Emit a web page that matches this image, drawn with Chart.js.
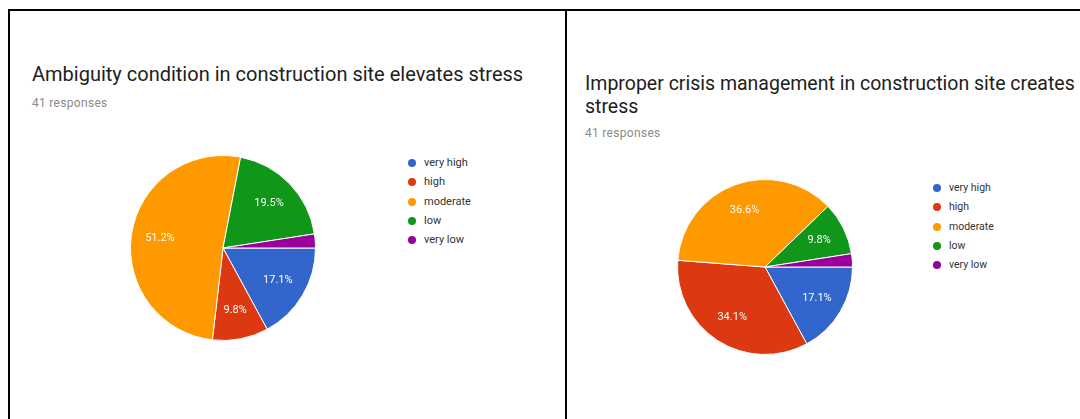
<!DOCTYPE html>
<html>
<head>
<meta charset="utf-8">
<script src="https://cdn.jsdelivr.net/npm/chart.js@4.4.1/dist/chart.umd.min.js"></script>
<style>
  html, body { margin: 0; padding: 0; background: #fff; }
  body { width: 1080px; height: 419px; position: relative; overflow: hidden; font-family: Roboto, "Liberation Sans", Arial, sans-serif; }
  .rule { position: absolute; background: #000; }
  .title { position: absolute; font-size: 20px; color: #212121; white-space: nowrap; line-height: 24px; }
  .sub { position: absolute; font-size: 12px; letter-spacing: 0.3px; color: #8a8a8a; white-space: nowrap; }
  .legend { position: absolute; font-size: 11px; color: #333; }
  .legend div { position: relative; height: 19.3px; line-height: 19.3px; padding-left: 16px; white-space: nowrap; }
  .legend span { position: absolute; left: 0; top: 6px; width: 8px; height: 8px; border-radius: 50%; }
  canvas { position: absolute; }
</style>
</head>
<body>
<!-- table rules around the two survey panels -->
<div class="rule" style="left:8px; top:9px; width:1072px; height:2px;"></div>
<div class="rule" style="left:8px; top:9px; width:2px; height:410px;"></div>
<div class="rule" style="left:565px; top:9px; width:2px; height:410px;"></div>

<div class="title" style="left:32px; top:62px;">Ambiguity condition in construction site elevates stress</div>
<div class="sub" style="left:32px; top:96px;">41 responses</div>
<div class="legend" id="legend1" style="left:408px; top:153px;"></div>
<canvas id="pie1" width="190" height="190" style="left:128px; top:153px;"></canvas>

<div class="title" style="left:585px; top:72px; font-size:19.5px; line-height:23px;">Improper crisis management in construction site creates<br>stress</div>
<div class="sub" style="left:585px; top:126px;">41 responses</div>
<div class="legend" id="legend2" style="left:933px; top:178px; font-size:10.5px;"></div>
<canvas id="pie2" width="180" height="180" style="left:675px; top:177px;"></canvas>

<script>
// answer options shared by both questions
const levels = ['very high', 'high', 'moderate', 'low', 'very low'];
const levelColors = ['#3366cc', '#dc3912', '#ff9900', '#109618', '#990099'];

// number of responses per option (41 respondents each)
const ambiguityCounts = [7, 4, 21, 8, 1];
const crisisCounts = [7, 14, 15, 4, 1];

// white percentage text placed inside each slice large enough to hold it
const sliceText = {
  id: 'sliceText',
  afterDatasetsDraw(chart) {
    const ctx = chart.ctx;
    const data = chart.data.datasets[0].data;
    const total = data.reduce((a, b) => a + b, 0);
    const meta = chart.getDatasetMeta(0);
    ctx.save();
    ctx.fillStyle = '#ffffff';
    ctx.font = '11px Roboto, "Liberation Sans", Arial, sans-serif';
    ctx.textAlign = 'center';
    ctx.textBaseline = 'middle';
    meta.data.forEach((arc, i) => {
      const pct = data[i] / total * 100;
      if (pct < 5) return;
      const p = arc.getProps(['x', 'y', 'startAngle', 'endAngle', 'outerRadius'], true);
      const mid = (p.startAngle + p.endAngle) / 2;
      const r = p.outerRadius * 0.69;
      ctx.fillText(pct.toFixed(1) + '%', p.x + Math.cos(mid) * r, p.y + Math.sin(mid) * r);
    });
    ctx.restore();
  }
};

function buildLegend(id) {
  const box = document.getElementById(id);
  levels.forEach((name, i) => {
    const row = document.createElement('div');
    const dot = document.createElement('span');
    dot.style.background = levelColors[i];
    row.appendChild(dot);
    row.appendChild(document.createTextNode(name));
    box.appendChild(row);
  });
}

function buildPie(id, counts) {
  return new Chart(document.getElementById(id), {
    type: 'pie',
    data: {
      labels: levels,
      datasets: [{
        data: counts,
        backgroundColor: levelColors,
        borderColor: '#ffffff',
        borderWidth: 1
      }]
    },
    options: {
      responsive: false,
      animation: false,
      rotation: 90,
      layout: { padding: 2 },
      plugins: { legend: { display: false }, tooltip: { enabled: false } }
    },
    plugins: [sliceText]
  });
}

buildLegend('legend1');
buildLegend('legend2');
buildPie('pie1', ambiguityCounts);
buildPie('pie2', crisisCounts);
</script>
</body>
</html>
